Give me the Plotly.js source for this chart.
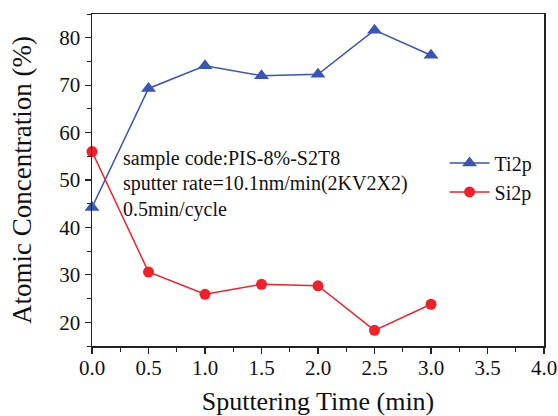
<!DOCTYPE html>
<html><head><meta charset="utf-8">
<script src="https://cdn.plot.ly/plotly-3.0.1.min.js"></script>
<style>html,body{margin:0;padding:0;background:#fff;}#c{width:558px;height:416px;}</style>
</head><body><div id="c"></div>
<script>
const time = [0.0, 0.5, 1.0, 1.5, 2.0, 2.5, 3.0];
const ti2p = [44.2, 69.3, 74.1, 72.0, 72.3, 81.6, 76.3];
const si2p = [56.0, 30.6, 25.9, 28.0, 27.7, 18.3, 23.8];
const notes = ["sample code:PIS-8%-S2T8", "sputter rate=10.1nm/min(2KV2X2)", "0.5min/cycle"];
const xTicks = [0, 0.5, 1, 1.5, 2, 2.5, 3, 3.5, 4];
const xTickText = ["0.0","0.5","1.0","1.5","2.0","2.5","3.0","3.5","4.0"];

const font = "Liberation Serif, Times New Roman, serif";
const traces = [
  {x: time, y: ti2p, name: "Ti2p", type: "scatter", mode: "lines+markers", cliponaxis: false,
   line: {color: "#3a55b4", width: 1.5}, marker: {symbol: "triangle-up", size: 13, color: "#3a55b4"}},
  {x: time, y: si2p, name: "Si2p", type: "scatter", mode: "lines+markers", cliponaxis: false,
   line: {color: "#f0202a", width: 1.5}, marker: {symbol: "circle", size: 11, color: "#f0202a"}}
];
const ann = notes.map((t, i) => ({
  text: t, xref: "paper", yref: "paper", x: 0.064, y: 0.566 - i * 0.078,
  xanchor: "left", yanchor: "middle", showarrow: false,
  font: {family: font, size: 20, color: "#111"}
}));
const layout = {
  width: 558, height: 416,
  margin: {l: 92, r: 14, t: 14, b: 70},
  paper_bgcolor: "#fff", plot_bgcolor: "#fff",
  font: {family: font, color: "#111"},
  showlegend: true,
  legend: {x: 0.78, y: 0.61, xanchor: "left", yanchor: "top", bgcolor: "rgba(0,0,0,0)",
    font: {family: font, size: 20, color: "#111"}, itemwidth: 40, tracegroupgap: 0},
  xaxis: {range: [0, 4], tickvals: xTicks, ticktext: xTickText, ticks: "outside", ticklen: 6,
    tickwidth: 1.2, tickcolor: "#222", showline: true, linecolor: "#222", linewidth: 1.5,
    mirror: true, showgrid: false, zeroline: false, ticklabelstandoff: -4,
    minor: {dtick: 0.25, ticks: "outside", ticklen: 4, tickcolor: "#222", tickwidth: 1},
    tickfont: {family: font, size: 21, color: "#111"},
    title: {text: "Sputtering Time (min)", font: {family: font, size: 26, color: "#111"}, standoff: 16}},
  yaxis: {range: [15, 85], tickvals: [20, 30, 40, 50, 60, 70, 80], ticks: "outside", ticklen: 6,
    tickwidth: 1.2, tickcolor: "#222", showline: true, linecolor: "#222", linewidth: 1.5,
    mirror: true, showgrid: false, zeroline: false,
    minor: {dtick: 5, ticks: "outside", ticklen: 4, tickcolor: "#222", tickwidth: 1},
    tickfont: {family: font, size: 21, color: "#111"},
    title: {text: "Atomic Concentration (%)", font: {family: font, size: 27, color: "#111"}, standoff: 20}},
  annotations: ann
};
Plotly.newPlot("c", traces, layout, {staticPlot: true, displayModeBar: false});
</script></body></html>
